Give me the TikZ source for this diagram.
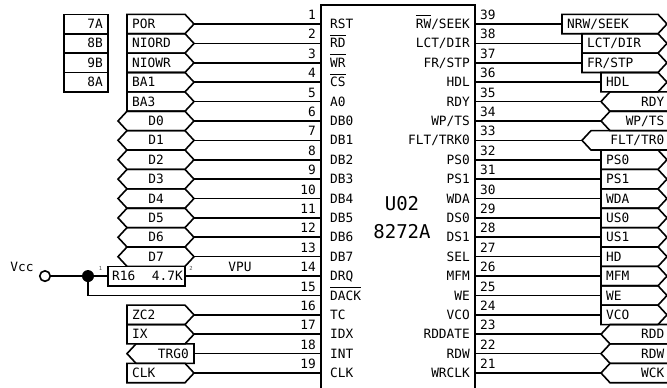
\documentclass[tikz,border=0pt]{standalone}
\usepackage{fontspec}
\setmainfont{DejaVu Sans Mono}
\newcommand\ob[1]{$\overline{\hbox{\rule{0pt}{11.6pt}#1}}$}
\newcommand\rowy[1]{\pgfmathsetmacro\yy{24+(#1-1)*19.39}\pgfmathsetmacro\yt{\yy-9.7}\pgfmathsetmacro\yb{\yy+9.7}\pgfmathsetmacro\yc{\yy+4.6}\pgfmathsetmacro\yn{\yy-4.4}}
% left connector from a tip to the chip
\newcommand\pinL[2]{\rowy{#1}\coordinate (L#1) at (#2,\yy);\draw[wire] (L#1) -- (L#1 -| chip.west);\node[pinnum,anchor=base east] (nL#1) at (316,\yn) {#1};}
\newcommand\LR[2]{\rowy{#1}\draw[wire] (127,\yt) -- (185,\yt) -- (194,\yy) -- (185,\yb) -- (127,\yb) -- cycle;\node[txt,anchor=base west] (bL#1) at (132,\yc) {#2};\pinL{#1}{194}}
\newcommand\LH[2]{\rowy{#1}\draw[wire] (118,\yy) -- (127,\yt) -- (185,\yt) -- (194,\yy) -- (185,\yb) -- (127,\yb) -- cycle;\node[txt,anchor=base] (bL#1) at (156,\yc) {#2};\pinL{#1}{194}}
\newcommand\chipL[2]{\rowy{#1}\node[txt,anchor=base west] (cL#1) at (330,\yc) {#2};}
\newcommand\chipR[2]{\rowy{#1}\node[txt,anchor=base east] (cR#1) at (470,\yc) {#2};}
% right side
\newcommand\pinR[3]{\rowy{#1}\coordinate (R#1) at (#2,\yy);\draw[wire] (R#1) -- (R#1 -| chip.east);\node[pinnum,anchor=base west] (nR#1) at (480,\yn) {#3};}
\newcommand\RR[4]{\rowy{#1}\draw[wire] (#2,\yt) -- (658,\yt) -- (667,\yy) -- (658,\yb) -- (#2,\yb) -- cycle;\pgfmathsetmacro\xt{#2+5}\node[txt,anchor=base west] (bR#1) at (\xt,\yc) {#3};\pinR{#1}{#2}{#4}}
\newcommand\RH[4]{\rowy{#1}\pgfmathsetmacro\xa{#2+9}\draw[wire] (672,\yt) -- (\xa,\yt) -- (#2,\yy) -- (\xa,\yb) -- (672,\yb);\node[txt,anchor=base east] (bR#1) at (664.5,\yc) {#3};\pinR{#1}{#2}{#4}}
\begin{document}
\begin{tikzpicture}[x=1pt,y=-1pt,
  wire/.style={line width=1.6pt,line join=miter,black},
  txt/.style={font=\fontsize{12.8}{14}\selectfont,inner sep=0pt,text=black},
  pinnum/.style={font=\fontsize{12.8}{14}\selectfont,inner sep=0pt,text=black},
  tiny/.style={font=\fontsize{5.5}{6}\selectfont,inner sep=0pt,text=black!70},
  big/.style={font=\fontsize{19}{21}\selectfont,inner sep=0pt,text=black}]
\useasboundingbox (0,0) rectangle (667,388);
\clip (0,0) rectangle (667,388);
\fill[white] (0,0) rectangle (667,388);
\node[draw,line width=1.6pt,minimum width=154pt,minimum height=400pt,inner sep=0pt] (chip) at (398,205) {};
% reference table
\foreach \i/\t in {1/7A,2/8B,3/9B,4/8A}{
  \rowy{\i}
  \draw[wire] (64,\yt) rectangle (108,\yb);
  \node[txt,anchor=base east] (ref\i) at (103,\yc) {\t};
}
% left signals
\LR{1}{POR}\LR{2}{NIORD}\LR{3}{NIOWR}\LR{4}{BA1}\LR{5}{BA3}
\LH{6}{D0}\LH{7}{D1}\LH{8}{D2}\LH{9}{D3}\LH{10}{D4}\LH{11}{D5}\LH{12}{D6}\LH{13}{D7}
\LR{16}{ZC2}\LR{17}{IX}
\LR{19}{CLK}
% TRG0
\rowy{18}
\draw[wire] (136,\yt) -- (194,\yt) -- (194,\yb) -- (136,\yb) -- (127,\yy) -- cycle;
\node[txt,anchor=base east] (bL18) at (189,\yc) {TRG0};
\pinL{18}{194}
% Vcc and resistor
\rowy{14}
\node[draw,circle,line width=1.6pt,fill=white,minimum size=10.5pt,inner sep=0pt] (vcc) at (45,\yy) {};
\node[draw,line width=1.6pt,fill=white,minimum width=77pt,minimum height=19.4pt,inner sep=0pt] (r16) at (146.5,\yy) {};
\node[txt,anchor=base west] (r16a) at (112,\yc) {R16};
\node[txt,anchor=base east] (r16b) at (183,\yc) {4.7K};
\node[circle,fill=black,minimum size=12pt,inner sep=0pt] (dot) at (88,\yy) {};
\draw[wire] (vcc) -- (dot);
\draw[wire] (dot) -- (r16);
\draw[wire] (r16) -- (r16 -| chip.west);
\node[pinnum,anchor=base east] (nL14) at (316,\yn) {14};
\node[txt,anchor=base] (vpu) at (240,\yn) {VPU};
\node[txt,anchor=base] (vcct) at (22,\yn) {Vcc};
\node[tiny] (p1) at (100.5,268) {1};
\node[tiny] (p2) at (191,268) {2};
\rowy{15}
\coordinate (L15) at (dot |- 0,\yy);
\draw[wire] (dot) -- (L15) -- (L15 -| chip.west);
\node[pinnum,anchor=base east] (nL15) at (316,\yn) {15};
% chip labels
\chipL{1}{RST}\chipL{2}{\ob{RD}}\chipL{3}{\ob{WR}}\chipL{4}{\ob{CS}}\chipL{5}{A0}
\chipL{6}{DB0}\chipL{7}{DB1}\chipL{8}{DB2}\chipL{9}{DB3}\chipL{10}{DB4}\chipL{11}{DB5}\chipL{12}{DB6}\chipL{13}{DB7}
\chipL{14}{DRQ}\chipL{15}{\ob{DACK}}\chipL{16}{TC}\chipL{17}{IDX}\chipL{18}{INT}\chipL{19}{CLK}
\chipR{1}{\ob{RW}/SEEK}\chipR{2}{LCT/DIR}\chipR{3}{FR/STP}\chipR{4}{HDL}\chipR{5}{RDY}\chipR{6}{WP/TS}
\chipR{7}{FLT/TRK0}\chipR{8}{PS0}\chipR{9}{PS1}\chipR{10}{WDA}\chipR{11}{DS0}\chipR{12}{DS1}\chipR{13}{SEL}
\chipR{14}{MFM}\chipR{15}{WE}\chipR{16}{VCO}\chipR{17}{RDDATE}\chipR{18}{RDW}\chipR{19}{WRCLK}
\node[big,anchor=base] (u02) at (402,210) {U02};
\node[big,anchor=base] (ic) at (402,238) {8272A};
% right signals
\RR{1}{562}{NRW/SEEK}{39}\RR{2}{582}{LCT/DIR}{38}\RR{3}{582}{FR/STP}{37}\RR{4}{601}{HDL}{36}
\RH{5}{601}{RDY}{35}\RH{6}{601}{WP/TS}{34}\RH{7}{582}{FLT/TR0}{33}
\RR{8}{601}{PS0}{32}\RR{9}{601}{PS1}{31}\RR{10}{601}{WDA}{30}\RR{11}{601}{US0}{29}\RR{12}{601}{US1}{28}
\RR{13}{601}{HD}{27}\RR{14}{601}{MFM}{26}\RR{15}{601}{WE}{25}\RR{16}{601}{VCO}{24}
\RH{17}{601}{RDD}{23}\RH{18}{601}{RDW}{22}\RH{19}{601}{WCK}{21}
\end{tikzpicture}
\end{document}
